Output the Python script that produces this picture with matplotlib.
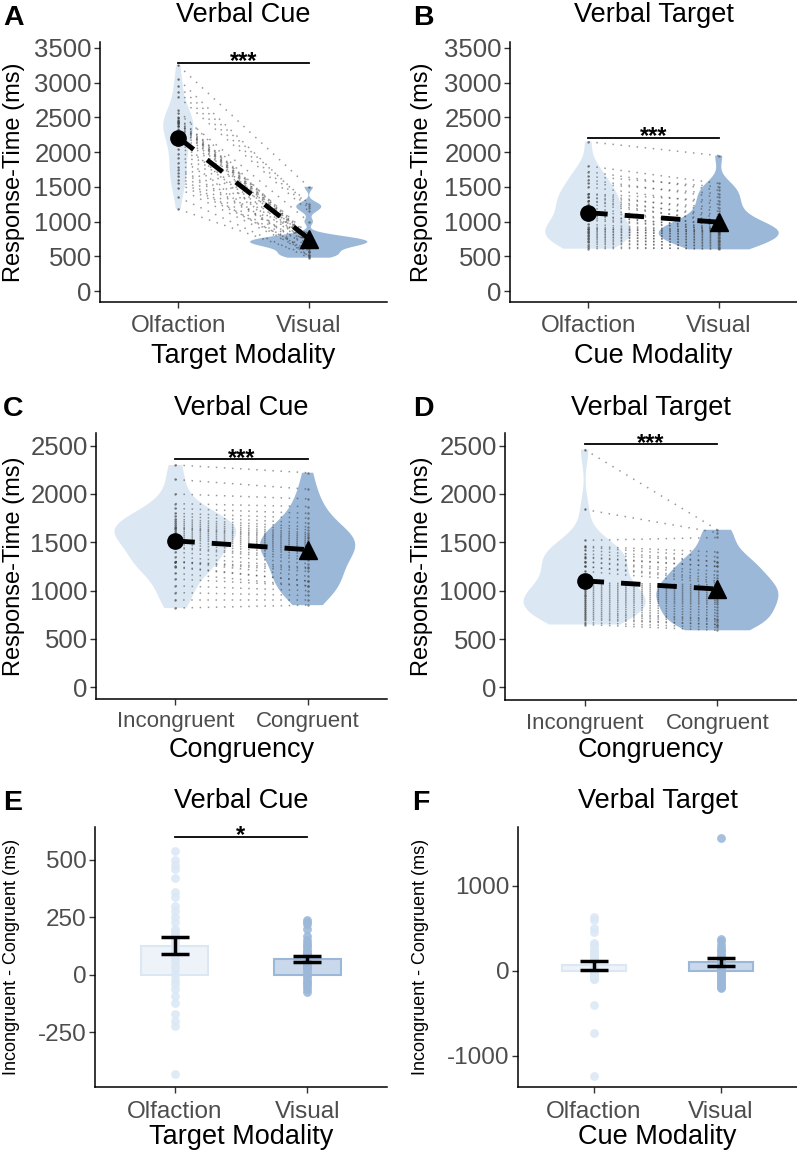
import numpy as np
import matplotlib
matplotlib.use("Agg")
import matplotlib.pyplot as plt

plt.rcParams["font.family"] = ["Liberation Sans", "DejaVu Sans"]
plt.rcParams["axes.unicode_minus"] = False

# ── data (one value per participant) ─────────────────────────────────────────
modalities = ["Olfaction", "Visual"]
congruency = ["Incongruent", "Congruent"]

# A: verbal cue, RT by target modality
a_olf = [1180, 1350, 1480, 1550, 1600, 1650, 1700, 1750, 1780, 1850, 1920, 1980,
         2040, 2100, 2150, 2200, 2250, 2290, 2330, 2370, 2380, 2400, 2420, 2430,
         2430, 2450, 2460, 2490, 2500, 2560, 2600, 2800, 2870, 2950, 3050, 3250]
a_vis = [520, 480, 560, 600, 580, 520, 560, 640, 650, 630, 700, 500,
         660, 700, 680, 490, 720, 690, 740, 650, 710, 760, 700, 730,
         780, 750, 820, 770, 800, 1000, 740, 1150, 1200, 1260, 1230, 1500]

# B: verbal target, RT by cue modality
b_olf = [610, 640, 670, 700, 720, 750, 770, 790, 810, 830, 850, 870,
         890, 900, 920, 960, 1020, 1050, 1080, 1100, 1150, 1200, 1250, 1300,
         1300, 1350, 1350, 1400, 1400, 1500, 1550, 1600, 1650, 1720, 1800, 2150]
b_vis = [620, 600, 660, 640, 700, 680, 740, 720, 780, 760, 820, 800,
         850, 840, 870, 860, 890, 880, 920, 900, 960, 940, 1020, 990,
         1100, 1060, 1200, 1150, 1300, 1250, 1400, 1350, 1500, 1450, 1550, 1950]

# C: verbal cue, RT by congruency
c_inc = [820, 900, 980, 1050, 1120, 1180, 1240, 1250, 1300, 1300, 1300, 1350,
         1400, 1440, 1450, 1480, 1510, 1540, 1560, 1580, 1600, 1620, 1640, 1650,
         1660, 1680, 1700, 1720, 1740, 1770, 1800, 1850, 1900, 2000, 2150, 2300]
c_con = [850, 900, 950, 1000, 1050, 1050, 1100, 1100, 1150, 1200, 1230, 1240,
         1280, 1320, 1350, 1380, 1400, 1420, 1440, 1460, 1480, 1500, 1520, 1540,
         1560, 1580, 1600, 1630, 1660, 1700, 1750, 1800, 1870, 1950, 2050, 2220]

# D: verbal target, RT by congruency
d_inc = [650, 670, 700, 720, 740, 760, 780, 800, 820, 840, 860, 880,
         900, 920, 940, 960, 980, 1000, 1020, 1040, 1060, 1080, 1200, 1250,
         1250, 1300, 1300, 1340, 1350, 1380, 1420, 1450, 1460, 1520, 1840, 2460]
d_con = [590, 620, 650, 650, 680, 700, 710, 740, 770, 800, 830, 860,
         880, 900, 920, 940, 960, 980, 1000, 1020, 1040, 1060, 1080, 1100,
         1130, 1160, 1200, 1250, 1250, 1300, 1300, 1350, 1400, 1550, 1600, 1630]

# E / F: congruency effect (incongruent - congruent)
e_olf = [540, 500, 480, 460, 420, 360, 340, 300, 280, 250, 230, 200,
         190, 180, 160, 150, 140, 120, 110, 100, 90, 80, 60, 40,
         20, 0, -20, -40, -60, -90, -120, -170, -200, -220, -430, 130]
e_vis = [240, 230, 220, 200, 170, 150, 140, 130, 120, 110, 100, 95,
         90, 85, 80, 75, 70, 65, 60, 55, 50, 45, 40, 35,
         30, 20, 10, 0, -10, -20, -30, -40, -50, -60, -75, 70]
f_olf = [640, 600, 500, 460, 330, 290, 250, 220, 200, 180, 160, 140,
         120, 110, 100, 90, 80, 70, 60, 50, 100, 90, 20, 10,
         0, -10, -20, -40, -60, -80, -100, -100, -400, -730, -1230, 300]
f_vis = [1570, 380, 350, 300, 270, 250, 230, 200, 180, 160, 150, 130,
         120, 100, 90, 80, 70, 60, 50, 40, 30, 20, 10, 0,
         -10, -30, -50, -70, -90, -110, -130, -150, -170, -190, -200, 60]

# ── style ────────────────────────────────────────────────────────────────────
W, H = 797, 1152
LIGHT = "#dbe8f4"
DARK = "#9bb8d9"
TICKCOL = "#4d4d4d"

fig = plt.figure(figsize=(W / 100, H / 100), dpi=100)
fig.patch.set_facecolor("white")


def px_axes(l, t, r, b):
    return fig.add_axes([l / W, 1 - b / H, (r - l) / W, (b - t) / H])


def ftext(x, y, s, **kw):
    fig.text(x / W, 1 - y / H, s, **kw)


def nrd0(kde):
    d = np.ravel(kde.dataset)
    sd = d.std(ddof=1)
    iqr = np.subtract(*np.percentile(d, [75, 25]))
    return 0.9 * min(sd, iqr / 1.34) * d.size ** -0.2 / sd


def style_axes(ax, ylim, yticks, xlabels, xlab_size, ylab_size=18.5):
    ax.set_xlim(0.4, 2.6)
    ax.set_ylim(*ylim)
    ax.set_yticks(yticks)
    ax.set_xticks([1, 2])
    ax.set_xticklabels(xlabels)
    for s in ("top", "right"):
        ax.spines[s].set_visible(False)
    for s in ("left", "bottom"):
        ax.spines[s].set_linewidth(1.1)
        ax.spines[s].set_color("black")
    ax.tick_params(axis="both", direction="out", length=4, width=1,
                   color="#333333", labelcolor=TICKCOL)
    ax.tick_params(axis="y", labelsize=ylab_size, pad=2)
    ax.tick_params(axis="x", labelsize=xlab_size, pad=5)


def signif(ax, y, label):
    ax.plot([1, 2], [y, y], color="black", lw=1.3, zorder=6)
    ax.annotate(label, xy=(1.5, y), xytext=(0, -4), textcoords="offset points",
                ha="center", va="baseline", fontsize=17, fontweight="bold",
                zorder=7)


def rt_panel(ax, left, right, widths, ylim, yticks, xlabels, xlab_size, sig_y):
    for pos, vals, col, w in ((1, left, LIGHT, widths[0]), (2, right, DARK, widths[1])):
        vp = ax.violinplot([vals], positions=[pos], widths=w, showextrema=False,
                           bw_method=nrd0)
        for body in vp["bodies"]:
            body.set_facecolor(col)
            body.set_edgecolor("none")
            body.set_alpha(1)
            body.set_zorder(1)
    for y1, y2 in zip(left, right):
        ax.plot([1, 2], [y1, y2], color="#333333", lw=1.1, alpha=0.5,
                ls=(0, (1, 4.3)), zorder=2)
    ax.scatter([1] * len(left), left, s=3, color="#444444", alpha=0.6, lw=0, zorder=2)
    ax.scatter([2] * len(right), right, s=3, color="#444444", alpha=0.6, lw=0, zorder=2)
    m1, m2 = np.mean(left), np.mean(right)
    ax.plot([1, 2], [m1, m2], color="black", lw=3.5, ls=(0, (4, 3.5)), zorder=4)
    ax.plot(1, m1, "o", color="black", ms=11, zorder=5)
    ax.plot(2, m2, "^", color="black", ms=13, zorder=5)
    signif(ax, sig_y, "***")
    style_axes(ax, ylim, yticks, xlabels, xlab_size)


def diff_panel(ax, left, right, ylim, yticks, xlabels, sig_y=None):
    for pos, vals, col, face in ((1, left, LIGHT, "#eef3f9"), (2, right, DARK, "#c9d8eb")):
        m = np.mean(vals)
        se = np.std(vals, ddof=1) / np.sqrt(len(vals))
        ax.bar(pos, m, width=0.5, color=face, edgecolor=col, lw=1.5, zorder=1)
        ax.scatter([pos] * len(vals), vals, s=40, color=col, alpha=0.9, lw=0, zorder=2)
        ax.errorbar(pos, m, yerr=se, fmt="none", ecolor="black", elinewidth=2.5,
                    capsize=10, capthick=2.5, zorder=3)
    if sig_y is not None:
        signif(ax, sig_y, "*")
    style_axes(ax, ylim, yticks, xlabels, 17.5, ylab_size=17.5)
    ax.tick_params(axis="x", pad=6)


# ── panels ───────────────────────────────────────────────────────────────────
axA = px_axes(100, 42, 387, 302)
rt_panel(axA, a_olf, a_vis, (0.23, 0.9), (-158, 3586), range(0, 3501, 500),
         modalities, 17.5, 3290)
axB = px_axes(510, 42, 797, 302)
rt_panel(axB, b_olf, b_vis, (0.66, 0.92), (-158, 3586), range(0, 3501, 500),
         modalities, 17.5, 2205)
axC = px_axes(96, 433, 387, 699)
rt_panel(axC, c_inc, c_con, (0.92, 0.72), (-121, 2631), range(0, 2501, 500),
         congruency, 16, 2362)
axD = px_axes(505, 433, 797, 700)
rt_panel(axD, d_inc, d_con, (0.92, 0.92), (-131, 2631), range(0, 2501, 500),
         congruency, 16, 2514)
axE = px_axes(95, 827, 387, 1087)
diff_panel(axE, e_olf, e_vis, (-487, 643), [-250, 0, 250, 500], modalities, sig_y=600)
axF = px_axes(518, 827, 797, 1087)
diff_panel(axF, f_olf, f_vis, (-1365, 1694), [-1000, 0, 1000], modalities)

# ── titles, labels, panel letters ────────────────────────────────────────────
panels = [
    ("A", 3, 25, "Verbal Cue", 243.5, 21.7, "Target Modality", 363.3,
     "Response-Time (ms)", 13.6, 172, 17),
    ("B", 413, 25, "Verbal Target", 653.5, 21.7, "Cue Modality", 363.3,
     "Response-Time (ms)", 421.6, 172, 17),
    ("C", 3, 416, "Verbal Cue", 241.5, 415, "Congruency", 756.7,
     "Response-Time (ms)", 13.6, 566, 17),
    ("D", 413, 416, "Verbal Target", 651, 415, "Congruency", 756.7,
     "Response-Time (ms)", 421.6, 566, 17),
    ("E", 3, 810, "Verbal Cue", 241, 808.3, "Target Modality", 1144,
     "Incongruent - Congruent (ms)", 11.8, 957, 13),
    ("F", 412, 810, "Verbal Target", 657.5, 808.3, "Cue Modality", 1144,
     "Incongruent - Congruent (ms)", 420.8, 957, 13),
]
for (letter, lx, ly, title, tx, ty, xlab, xly, ylab, ylx, yly, ysize) in panels:
    ftext(lx, ly, letter, fontsize=20.5, fontweight="bold", ha="left", va="baseline")
    ftext(tx, ty, title, fontsize=19.5, ha="center", va="baseline")
    ftext(tx, xly, xlab, fontsize=19.5, ha="center", va="baseline")
    ftext(ylx, yly, ylab, fontsize=ysize, rotation=90, ha="center", va="center")

fig.savefig("out.png", dpi=100, facecolor="white")
